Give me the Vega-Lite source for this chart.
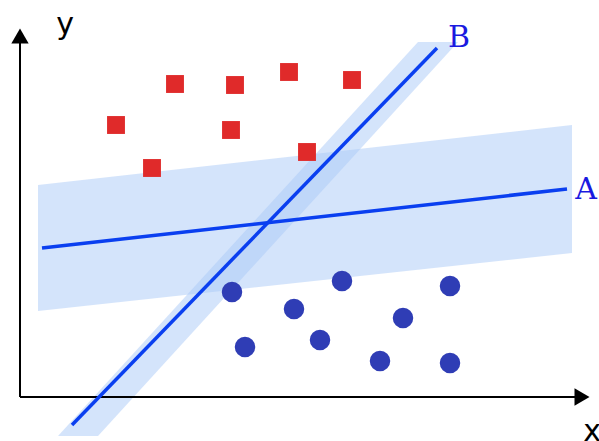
{
  "$schema": "https://vega.github.io/schema/vega-lite/v6.json",
  "width": 599,
  "height": 441,
  "autosize": "none",
  "padding": 0,
  "config": {"view": {"stroke": null}},
  "datasets": {
    "bandA": [
      {"x": 38, "top": 185, "bottom": 311},
      {"x": 572, "top": 125, "bottom": 253}
    ],
    "bandB": [
      {"y": 42, "left": 418, "right": 458},
      {"y": 436, "left": 58, "right": 98}
    ],
    "lines": [
      {"line": "A", "x": 42, "y": 248},
      {"line": "A", "x": 567, "y": 189},
      {"line": "B", "x": 72, "y": 425},
      {"line": "B", "x": 437, "y": 48}
    ],
    "axes": [
      {"axis": "v", "x": 20, "y": 397},
      {"axis": "v", "x": 20, "y": 35},
      {"axis": "h", "x": 20, "y": 397},
      {"axis": "h", "x": 580, "y": 397}
    ],
    "heads": [
      {"x": 20, "y": 36, "shape": "triangle-up"},
      {"x": 582, "y": 397, "shape": "triangle-right"}
    ],
    "red": [
      {"x": 175, "y": 84}, {"x": 235, "y": 85}, {"x": 289, "y": 72}, {"x": 352, "y": 80},
      {"x": 116, "y": 125}, {"x": 231, "y": 130}, {"x": 152, "y": 168}, {"x": 307, "y": 152}
    ],
    "blue": [
      {"x": 232, "y": 292}, {"x": 294, "y": 309}, {"x": 342, "y": 281}, {"x": 450, "y": 286},
      {"x": 403, "y": 318}, {"x": 245, "y": 347}, {"x": 320, "y": 340}, {"x": 380, "y": 361},
      {"x": 450, "y": 363}
    ],
    "labels": [
      {"x": 586, "y": 190, "text": "A", "kind": "line"},
      {"x": 459, "y": 38, "text": "B", "kind": "line"},
      {"x": 65, "y": 25, "text": "y", "kind": "axis"},
      {"x": 592, "y": 432, "text": "x", "kind": "axis"}
    ]
  },
  "layer": [
    {
      "data": {"name": "bandA"},
      "mark": {"type": "area", "color": "#a9c9f7", "opacity": 0.5},
      "encoding": {
        "x": {"field": "x", "type": "quantitative", "scale": {"domain": [0, 599], "nice": false, "zero": false}, "axis": null},
        "y": {"field": "top", "type": "quantitative", "scale": {"domain": [441, 0], "nice": false, "zero": false}, "axis": null},
        "y2": {"field": "bottom"}
      }
    },
    {
      "data": {"name": "bandB"},
      "mark": {"type": "area", "orient": "horizontal", "color": "#a9c9f7", "opacity": 0.5},
      "encoding": {
        "y": {"field": "y", "type": "quantitative"},
        "x": {"field": "left", "type": "quantitative"},
        "x2": {"field": "right"}
      }
    },
    {
      "data": {"name": "axes"},
      "mark": {"type": "line", "color": "black", "strokeWidth": 2},
      "encoding": {
        "x": {"field": "x", "type": "quantitative"},
        "y": {"field": "y", "type": "quantitative"},
        "detail": {"field": "axis"}
      }
    },
    {
      "data": {"name": "heads"},
      "mark": {"type": "point", "filled": true, "color": "black", "opacity": 1, "size": 300},
      "encoding": {
        "x": {"field": "x", "type": "quantitative"},
        "y": {"field": "y", "type": "quantitative"},
        "shape": {"field": "shape", "type": "nominal", "scale": null}
      }
    },
    {
      "data": {"name": "lines"},
      "mark": {"type": "line", "color": "#0a3ff0", "strokeWidth": 3.5},
      "encoding": {
        "x": {"field": "x", "type": "quantitative"},
        "y": {"field": "y", "type": "quantitative"},
        "detail": {"field": "line"}
      }
    },
    {
      "data": {"name": "red"},
      "mark": {"type": "square", "color": "#e02a2a", "opacity": 1, "size": 320},
      "encoding": {
        "x": {"field": "x", "type": "quantitative"},
        "y": {"field": "y", "type": "quantitative"}
      }
    },
    {
      "data": {"name": "blue"},
      "mark": {"type": "circle", "color": "#2f3db5", "opacity": 1, "size": 420},
      "encoding": {
        "x": {"field": "x", "type": "quantitative"},
        "y": {"field": "y", "type": "quantitative"}
      }
    },
    {
      "data": {"name": "labels"},
      "transform": [{"filter": "datum.kind == 'line'"}],
      "mark": {"type": "text", "font": "DejaVu Serif", "fontSize": 30, "color": "#1a1ae0"},
      "encoding": {
        "x": {"field": "x", "type": "quantitative"},
        "y": {"field": "y", "type": "quantitative"},
        "text": {"field": "text"}
      }
    },
    {
      "data": {"name": "labels"},
      "transform": [{"filter": "datum.kind == 'axis'"}],
      "mark": {"type": "text", "font": "DejaVu Sans", "fontSize": 30, "color": "black"},
      "encoding": {
        "x": {"field": "x", "type": "quantitative"},
        "y": {"field": "y", "type": "quantitative"},
        "text": {"field": "text"}
      }
    }
  ]
}
